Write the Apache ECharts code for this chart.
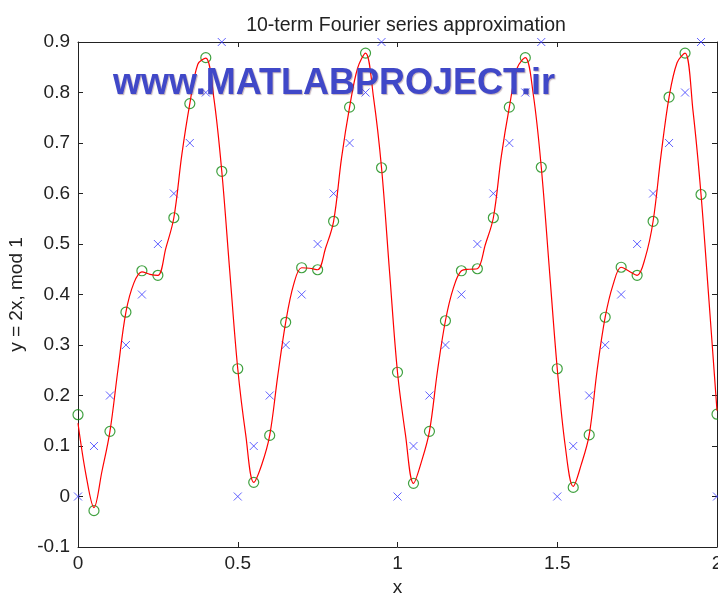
<!DOCTYPE html>
<html>
<head>
<meta charset="utf-8">
<script src="https://cdn.jsdelivr.net/npm/echarts@6/dist/echarts.min.js"></script>
<style>
html,body{margin:0;padding:0;background:#fff;}
#chart{width:718px;height:595px;}
</style>
</head>
<body>
<div id="chart"></div>
<script>
// ---- data ----
const sampleX = [0,0.05,0.1,0.15,0.2,0.25,0.3,0.35,0.4,0.45,0.5,0.55,0.6,0.65,0.7,0.75,0.8,0.85,0.9,0.95,1.0,1.05,1.1,1.15,1.2,1.25,1.3,1.35,1.4,1.45,1.5,1.55,1.6,1.65,1.7,1.75,1.8,1.85,1.9,1.95,2.0];
const sampleY = [0,0.1,0.2,0.3,0.4,0.5,0.6,0.7,0.8,0.9,0,0.1,0.2,0.3,0.4,0.5,0.6,0.7,0.8,0.9,0,0.1,0.2,0.3,0.4,0.5,0.6,0.7,0.8,0.9,0,0.1,0.2,0.3,0.4,0.5,0.6,0.7,0.8,0.9,0];
const fitY = [0.162,-0.028,0.129,0.365,0.447,0.438,0.552,0.778,0.869,0.644,0.253,0.028,0.121,0.345,0.453,0.449,0.545,0.771,0.878,0.651,0.246,0.026,0.129,0.348,0.447,0.451,0.552,0.771,0.869,0.652,0.253,0.018,0.122,0.355,0.454,0.438,0.545,0.791,0.878,0.598,0.163];
const curveX = [0,0.025,0.05,0.075,0.1,0.125,0.15,0.175,0.2,0.225,0.25,0.275,0.3,0.325,0.35,0.375,0.4,0.425,0.45,0.475,0.5,0.525,0.55,0.575,0.6,0.625,0.65,0.675,0.7,0.725,0.75,0.775,0.8,0.825,0.85,0.875,0.9,0.925,0.95,0.975,1.0,1.025,1.05,1.075,1.1,1.125,1.15,1.175,1.2,1.225,1.25,1.275,1.3,1.325,1.35,1.375,1.4,1.425,1.45,1.475,1.5,1.525,1.55,1.575,1.6,1.625,1.65,1.675,1.7,1.725,1.75,1.775,1.8,1.825,1.85,1.875,1.9,1.925,1.95,1.975,2.0];
const curveY = [0.145,0.043,-0.022,0.05,0.129,0.251,0.365,0.423,0.445,0.44,0.438,0.492,0.552,0.677,0.778,0.856,0.868,0.79,0.644,0.446,0.253,0.122,0.028,0.063,0.121,0.238,0.345,0.42,0.453,0.452,0.449,0.492,0.545,0.671,0.771,0.848,0.878,0.79,0.651,0.446,0.246,0.122,0.026,0.069,0.129,0.248,0.348,0.413,0.447,0.45,0.451,0.499,0.552,0.674,0.771,0.849,0.869,0.796,0.652,0.453,0.253,0.1,0.02,0.063,0.122,0.251,0.355,0.42,0.454,0.446,0.438,0.472,0.545,0.677,0.791,0.859,0.878,0.763,0.598,0.387,0.17];
const xTicks = {min:0, max:2, interval:0.5};
const yTicks = {min:-0.1, max:0.9, interval:0.1};
const titleText = '10-term Fourier series approximation';
const xName = 'x';
const yName = 'y = 2x, mod 1';
const watermark = 'www.MATLABPROJECT.ir';

const FONT = '"Liberation Sans", Arial, sans-serif';
const AX = '#222';
const pair = (xs, ys) => xs.map((x, i) => [x, ys[i]]);
const fmt = v => String(+(+v).toFixed(1));

const chart = echarts.init(document.getElementById('chart'), null, {renderer:'canvas'});
const baseX = {
  type:'value', min:xTicks.min, max:xTicks.max, interval:xTicks.interval,
  axisLine:{show:true, onZero:false, lineStyle:{color:AX, width:1}},
  axisTick:{show:true, inside:true, length:5, lineStyle:{color:AX}},
  splitLine:{show:false}
};
const baseY = {
  type:'value', min:yTicks.min, max:yTicks.max, interval:yTicks.interval,
  axisLine:{show:true, onZero:false, lineStyle:{color:AX, width:1}},
  axisTick:{show:true, inside:true, length:5, lineStyle:{color:AX}},
  splitLine:{show:false}
};
chart.setOption({
  animation:false,
  backgroundColor:'#fff',
  title:{text:titleText, left:401, textAlign:'center', top:11,
    textStyle:{fontFamily:FONT, fontSize:19.5, fontWeight:'normal', color:AX}},
  grid:{left:78, right:1, top:42, bottom:48, containLabel:false, outerBoundsMode:'none'},
  xAxis:[
    Object.assign({}, baseX, {position:'bottom',
      axisLabel:{show:true, margin:7, fontFamily:FONT, fontSize:19, color:AX, formatter:fmt},
      name:xName, nameLocation:'middle', nameGap:30,
      nameTextStyle:{fontFamily:FONT, fontSize:19, color:AX}}),
    Object.assign({}, baseX, {position:'top', axisLabel:{show:false}})
  ],
  yAxis:[
    Object.assign({}, baseY, {position:'left',
      axisLabel:{show:true, margin:8, fontFamily:FONT, fontSize:19, color:AX, formatter:fmt},
      name:yName, nameLocation:'middle', nameGap:47, nameRotate:90,
      nameTextStyle:{fontFamily:FONT, fontSize:19, color:AX}}),
    Object.assign({}, baseY, {position:'right', axisLabel:{show:false}})
  ],
  series:[
    {type:'scatter', name:'samples', data:pair(sampleX, sampleY),
      symbol:'path://M0,0L10,10M10,0L0,10', symbolSize:8,
      itemStyle:{color:'none', borderColor:'#3a3aff', borderWidth:1}, z:3},
    {type:'scatter', name:'fit', data:pair(sampleX, fitY),
      symbol:'circle', symbolSize:10,
      itemStyle:{color:'none', borderColor:'#108a10', borderWidth:1.2}, z:4},
    {type:'line', name:'curve', data:pair(curveX, curveY), smooth:0.35,
      showSymbol:false, symbol:'none', clip:true,
      lineStyle:{color:'#ff0000', width:1.2}, z:5}
  ],
  graphic:[
    {type:'text', left:113, top:66, z:100,
      style:{text:watermark, fontFamily:FONT, fontSize:36, fontWeight:'bold',
        fill:'#4048c8', textShadowColor:'rgba(90,40,60,0.35)', textShadowBlur:1,
        textShadowOffsetX:1, textShadowOffsetY:1}}
  ]
});
</script>
</body>
</html>
